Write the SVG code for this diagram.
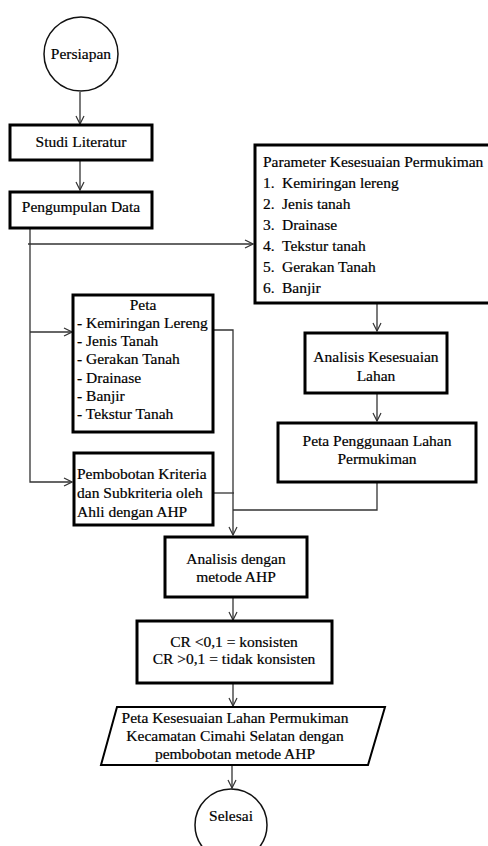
<svg xmlns="http://www.w3.org/2000/svg" width="488" height="846" viewBox="0 0 488 846">
<defs>
<marker id="arr" viewBox="0 0 10 10" refX="9" refY="5" markerWidth="10" markerHeight="10" markerUnits="userSpaceOnUse" orient="auto">
<path d="M1,1 L9,5 L1,9" fill="none" stroke="#333" stroke-width="1.2"/>
</marker>
<style>
.box{fill:#fff;stroke:#000;stroke-width:3}
.c{fill:none;stroke:#333;stroke-width:1.3}
text{font-family:"Liberation Serif","Times New Roman",serif;font-size:15.5px;fill:#000;stroke:#000;stroke-width:0.2}
.m{text-anchor:middle}
</style>
</defs>
<rect width="488" height="846" fill="#fff"/>
<g id="connectors">
<line class="c" x1="80" y1="92" x2="80" y2="124" marker-end="url(#arr)"/>
<line class="c" x1="80" y1="160" x2="80" y2="190" marker-end="url(#arr)"/>
<polyline class="c" points="30,228 30,482 72,482" marker-end="url(#arr)"/>
<line class="c" x1="28" y1="244" x2="253" y2="244" marker-end="url(#arr)"/>
<line class="c" x1="30" y1="332" x2="72" y2="332" marker-end="url(#arr)"/>
<line class="c" x1="377" y1="303" x2="377" y2="331" marker-end="url(#arr)"/>
<line class="c" x1="377" y1="393" x2="377" y2="421" marker-end="url(#arr)"/>
<polyline class="c" points="377,482 377,510 233,510"/>
<polyline class="c" points="213,330 233,330 233,535" marker-end="url(#arr)"/>
<line class="c" x1="213" y1="493" x2="234" y2="493"/>
<line class="c" x1="233" y1="597" x2="233" y2="620" marker-end="url(#arr)"/>
<line class="c" x1="233" y1="683" x2="233" y2="706" marker-end="url(#arr)"/>
<line class="c" x1="232" y1="765" x2="232" y2="788" marker-end="url(#arr)"/>
</g>
<g id="persiapan">
<circle cx="81" cy="54" r="37" fill="#fff" stroke="#111" stroke-width="1.5"/>
<text class="m" x="81" y="59">Persiapan</text>
</g>
<g id="studi">
<rect class="box" x="10" y="125" width="142" height="35"/>
<text class="m" x="81" y="147">Studi Literatur</text>
</g>
<g id="pengumpulan">
<rect class="box" x="10" y="192" width="142" height="36"/>
<text class="m" x="81" y="212">Pengumpulan Data</text>
</g>
<g id="parameter">
<rect class="box" x="255" y="145" width="240" height="158"/>
<text x="263" y="167">Parameter Kesesuaian Permukiman</text>
<text x="263" y="188">1.</text><text x="282" y="188">Kemiringan lereng</text>
<text x="263" y="209">2.</text><text x="282" y="209">Jenis tanah</text>
<text x="263" y="230">3.</text><text x="282" y="230">Drainase</text>
<text x="263" y="251">4.</text><text x="282" y="251">Tekstur tanah</text>
<text x="263" y="272">5.</text><text x="282" y="272">Gerakan Tanah</text>
<text x="263" y="293">6.</text><text x="282" y="293">Banjir</text>
</g>
<g id="peta">
<rect class="box" x="73" y="295" width="140" height="137"/>
<text class="m" x="143" y="310">Peta</text>
<text x="77" y="328">- Kemiringan Lereng</text>
<text x="77" y="346">- Jenis Tanah</text>
<text x="77" y="364">- Gerakan Tanah</text>
<text x="77" y="383">- Drainase</text>
<text x="77" y="401">- Banjir</text>
<text x="77" y="419">- Tekstur Tanah</text>
</g>
<g id="pembobotan">
<rect class="box" x="74" y="453" width="139" height="72"/>
<text x="77" y="479">Pembobotan Kriteria</text>
<text x="77" y="498">dan Subkriteria oleh</text>
<text x="77" y="517">Ahli dengan AHP</text>
</g>
<g id="analisis-kesesuaian">
<rect class="box" x="305" y="333" width="142" height="60"/>
<text class="m" x="376" y="362">Analisis Kesesuaian</text>
<text class="m" x="376" y="381">Lahan</text>
</g>
<g id="peta-penggunaan">
<rect class="box" x="278" y="423" width="198" height="59"/>
<text class="m" x="377" y="446">Peta Penggunaan Lahan</text>
<text class="m" x="377" y="464">Permukiman</text>
</g>
<g id="analisis-ahp">
<rect class="box" x="165" y="537" width="142" height="60"/>
<text class="m" x="236" y="564">Analisis dengan</text>
<text class="m" x="236" y="582">metode AHP</text>
</g>
<g id="cr">
<rect class="box" x="137" y="621" width="195" height="62"/>
<text class="m" x="234" y="647">CR &lt;0,1 = konsisten</text>
<text class="m" x="234" y="664">CR &gt;0,1 = tidak konsisten</text>
</g>
<g id="output">
<polygon points="117,707 385,707 368,765 101,765" fill="#fff" stroke="#000" stroke-width="2"/>
<text class="m" x="235" y="723">Peta Kesesuaian Lahan Permukiman</text>
<text class="m" x="235" y="741">Kecamatan Cimahi Selatan dengan</text>
<text class="m" x="235" y="759">pembobotan metode AHP</text>
</g>
<g id="selesai">
<circle cx="231" cy="825" r="36" fill="#fff" stroke="#111" stroke-width="1.5"/>
<text class="m" x="231" y="821">Selesai</text>
</g>
</svg>
